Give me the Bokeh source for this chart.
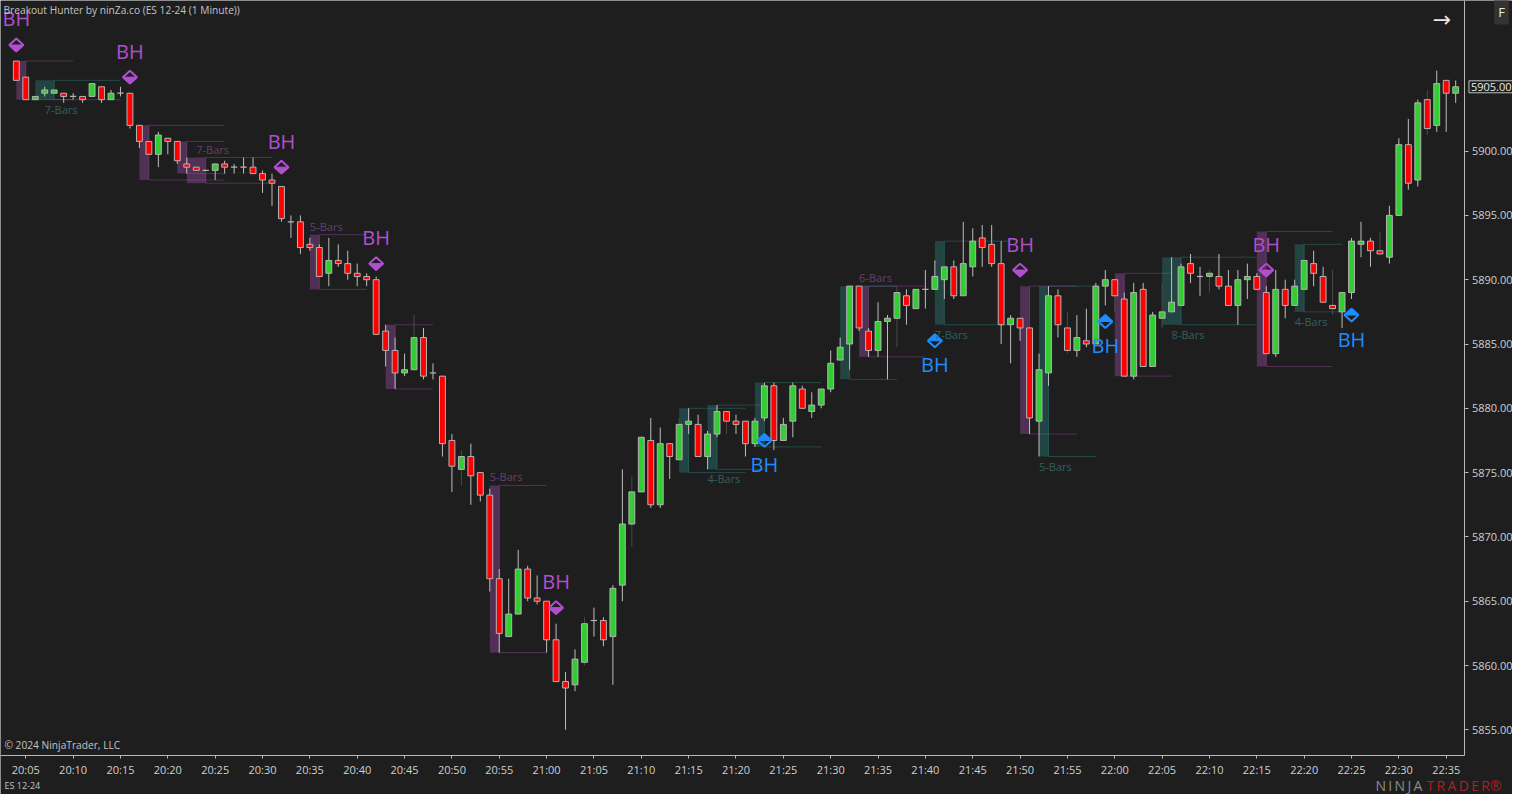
import numpy as np
from bokeh.plotting import figure
from bokeh.models import Range1d, FixedTicker, Label, LabelSet, ColumnDataSource, PrintfTickFormatter
from bokeh.embed import file_html
from bokeh.resources import INLINE
from bokeh.core.properties import value

# ---------------- data ----------------
title_text = "Breakout Hunter by ninZa.co (ES 12-24 (1 Minute))"
instrument = "ES 12-24"
copyright_text = "\u00a9 2024 NinjaTrader, LLC"
first_bar_time = "20:04"

opens = [5907, 5905.75, 5904, 5904.5, 5904.5, 5904.5, 5904.25, 5904.25, 5904.25, 5905,
         5904, 5904.5, 5904.5, 5902, 5900.75, 5899.75, 5901, 5900.75, 5899, 5898.75,
         5898.5, 5898.5, 5899, 5898.75, 5898.75, 5898.75, 5898.25, 5897.75, 5897.25, 5894.5,
         5894.5, 5892.75, 5892.5, 5890.5, 5891.5, 5891.25, 5890.5, 5890.25, 5890, 5886,
         5884.5, 5882.75, 5883, 5885.5, 5882.75, 5882.5, 5877.5, 5875.25, 5876.25, 5875,
         5873.25, 5866.75, 5862.25, 5864, 5867.5, 5865.25, 5865, 5862, 5858.75, 5858.5,
         5860.25, 5863.5, 5863.5, 5862.25, 5866.25, 5871, 5873.5, 5877.5, 5872.5, 5877.25,
         5876, 5878.75, 5878.75, 5876.25, 5878, 5879.75, 5879, 5879, 5877.25, 5879.25,
         5881.75, 5877.5, 5879, 5881.5, 5879.75, 5880.25, 5881.5, 5883.75, 5885, 5889.5,
         5886, 5884.5, 5886.75, 5887, 5888.75, 5887.75, 5889.25, 5889.25, 5890, 5891,
         5888.75, 5891, 5893.25, 5892.75, 5891.25, 5886.5, 5887, 5886.25, 5879, 5882.75,
         5888.75, 5886.25, 5884.5, 5885.25, 5885, 5889.5, 5890, 5888.5, 5882.5, 5889.25,
         5883.25, 5887, 5887.5, 5888, 5891.25, 5890.25, 5890.25, 5890.25, 5889.5, 5888,
         5890, 5890.25, 5889, 5884.25, 5889.25, 5888, 5889.25, 5891.25, 5890.25, 5888,
         5887.5, 5889, 5892.75, 5893, 5892.25, 5891.75, 5895, 5900.5, 5897.75, 5904,
         5902, 5905.5, 5904.5]
highs = [5907, 5905.75, 5904.25, 5905, 5904.75, 5904.5, 5904.5, 5904.25, 5905.25, 5905,
         5904.75, 5905, 5904.5, 5902, 5900.75, 5901.5, 5901, 5900.75, 5899.5, 5898.75,
         5898.5, 5899, 5899.25, 5899, 5899.5, 5899.5, 5898.5, 5898.25, 5897.25, 5895,
         5895, 5893.25, 5892.75, 5893.25, 5892.75, 5892.25, 5891.25, 5890.5, 5890.25, 5886.5,
         5885.5, 5884.25, 5887.25, 5886.25, 5883.5, 5882.5, 5878, 5876.75, 5877.25, 5875,
         5873.75, 5867.5, 5866.75, 5869, 5867.75, 5867, 5865, 5863.25, 5859.5, 5861.25,
         5863.75, 5864.5, 5863.75, 5866.25, 5875.25, 5874.75, 5877.75, 5879.25, 5878.5, 5877.25,
         5879.25, 5880, 5879.5, 5878.25, 5880.25, 5879.75, 5879.5, 5879, 5879.25, 5882,
         5882, 5879.25, 5882, 5881.75, 5881.25, 5881.5, 5884.5, 5885.5, 5889.5, 5889.5,
         5886.25, 5888.25, 5887.25, 5889.5, 5889.25, 5889.25, 5890.75, 5891.5, 5891, 5891.5,
         5894.5, 5894, 5894.25, 5894.25, 5893, 5887.25, 5887, 5886.25, 5884.25, 5889.5,
         5889.25, 5887.5, 5887.25, 5887.75, 5889.75, 5890.75, 5890, 5889, 5889.75, 5889.75,
         5887.5, 5889.75, 5891.75, 5891.25, 5892, 5891, 5890.75, 5892, 5890.75, 5890.75,
         5891.25, 5890.5, 5889.5, 5890.75, 5890, 5890, 5891.5, 5892.25, 5891, 5890.75,
         5889, 5893.25, 5894.5, 5893.25, 5893.75, 5895.75, 5901, 5902.5, 5904, 5904.75,
         5906.25, 5905.5, 5905.5]
lows = [5905.5, 5904, 5904, 5904.25, 5904.5, 5903.75, 5904, 5903.75, 5904.25, 5903.75,
        5904, 5904.25, 5901.75, 5900.25, 5899.75, 5898.75, 5899.75, 5899, 5898.25, 5898.5,
        5898.5, 5897.75, 5898.25, 5898.25, 5898.25, 5898.25, 5896.75, 5895.75, 5894.5, 5893.25,
        5892, 5892.25, 5890.25, 5889.5, 5891, 5890, 5889.5, 5889.5, 5885.75, 5883.25,
        5881.5, 5882.5, 5883, 5882.25, 5882.25, 5876.25, 5873.5, 5874, 5872.5, 5872.75,
        5865.75, 5861, 5862.25, 5864, 5865, 5864.75, 5861, 5858.75, 5855, 5858,
        5860, 5862.25, 5861.5, 5858.5, 5865, 5869.25, 5873.5, 5872.25, 5872.25, 5874.5,
        5876, 5878, 5876.25, 5875.25, 5877.75, 5878, 5878, 5876.25, 5877, 5879,
        5876.75, 5877.5, 5877.75, 5880, 5879.25, 5880, 5881.25, 5883.75, 5883, 5886,
        5884, 5884, 5882.25, 5884.75, 5886.5, 5887.75, 5887.75, 5889.25, 5888.5, 5888.5,
        5888.75, 5890.25, 5891, 5891, 5885, 5883.5, 5885.25, 5878, 5876.25, 5881.75,
        5885.5, 5884.25, 5884, 5884.75, 5885, 5888, 5887.5, 5882.5, 5882.25, 5883.25,
        5883.25, 5886.25, 5887.5, 5888, 5889.75, 5888.75, 5889, 5889.25, 5888, 5886.5,
        5888.5, 5889.25, 5884.25, 5884, 5887, 5888, 5889.25, 5889.5, 5888.25, 5887.25,
        5886.25, 5888.5, 5891.75, 5891, 5892, 5891.25, 5895, 5897, 5897.25, 5901.25,
        5901.5, 5901.5, 5903.75]
closes = [5905.5, 5904, 5904.25, 5904.75, 5904.75, 5904.25, 5904.25, 5904, 5905.25, 5904,
          5904.5, 5904.5, 5902, 5900.75, 5899.75, 5901.25, 5900.75, 5899.25, 5898.75, 5898.5,
          5898.5, 5899, 5898.75, 5898.75, 5898.75, 5898.25, 5897.75, 5897.5, 5894.75, 5894.5,
          5892.5, 5892.5, 5890.25, 5891.5, 5891.25, 5890.5, 5890.25, 5890, 5885.75, 5884.5,
          5882.75, 5883, 5885.5, 5882.5, 5882.75, 5877.25, 5875.5, 5876.25, 5874.75, 5873.25,
          5866.75, 5862.5, 5864, 5867.5, 5865.25, 5865, 5862, 5858.75, 5858.25, 5860.5,
          5863.25, 5863.5, 5862, 5866, 5871, 5873.5, 5877.75, 5872.5, 5877.25, 5876.25,
          5878.75, 5879, 5876.25, 5878, 5879.75, 5879, 5878.75, 5877.25, 5879, 5881.75,
          5877.5, 5878.75, 5881.75, 5880, 5880.25, 5881.5, 5883.5, 5884.75, 5889.5, 5886.25,
          5884.5, 5886.75, 5887, 5889, 5888, 5889.25, 5889.25, 5890.25, 5891, 5888.75,
          5891.25, 5893, 5892.5, 5891.25, 5886.5, 5887, 5886.25, 5879.25, 5883, 5888.75,
          5886.5, 5884.5, 5885.5, 5885, 5889.5, 5890, 5888.75, 5882.5, 5889, 5883.25,
          5887.25, 5887.5, 5888.25, 5891, 5890.5, 5890.25, 5890.5, 5889.5, 5888, 5890,
          5890.25, 5889.25, 5884.25, 5889.25, 5888, 5889.5, 5891.5, 5890.5, 5888.25, 5887.75,
          5889, 5893, 5893, 5892.25, 5892, 5895, 5900.5, 5897.5, 5903.75, 5901.75,
          5905.25, 5904.5, 5905]

dim_wick_bars = [42, 47, 60, 65, 70, 75, 93, 111, 116, 121, 126, 139, 144, 149]

tick_labels = ["20:05", "20:10", "20:15", "20:20", "20:25", "20:30", "20:35", "20:40",
               "20:45", "20:50", "20:55", "21:00", "21:05", "21:10", "21:15", "21:20",
               "21:25", "21:30", "21:35", "21:40", "21:45", "21:50", "21:55", "22:00",
               "22:05", "22:10", "22:15", "22:20", "22:25", "22:30", "22:35"]
price_ticks = [5855, 5860, 5865, 5870, 5875, 5880, 5885, 5890, 5895, 5900]

# breakout boxes (bearish = purple, bullish = teal)
bear_box_start = [0, 13, 17, 18, 31, 39, 50, 89, 106, 116, 131]
bear_box_width = [1, 1, 1, 2, 1, 1, 1, 1, 1, 1, 1]
bear_box_end = [6, 22, 22, 27, 37, 44, 56, 96, 112, 122, 139]
bear_box_top = [5907, 5902, 5900.75, 5899.5, 5893.5, 5886.5, 5874, 5889.5, 5889.5, 5890.5, 5893.75]
bear_box_bottom = [5904, 5897.75, 5898.25, 5897.5, 5889.25, 5881.5, 5861, 5884, 5878, 5882.5, 5883.25]
bear_box_label = ["", "", "", "7-Bars", "5-Bars", "", "5-Bars", "6-Bars", "", "", ""]

bull_box_start = [2, 70, 73, 78, 87, 97, 108, 121, 135]
bull_box_width = [2, 1, 1, 1, 1, 1, 1, 2, 1]
bull_box_end = [11, 77, 79, 85, 93, 105, 114, 131, 140]
bull_box_top = [5905.5, 5880, 5880.25, 5882, 5889.5, 5893, 5889.5, 5891.75, 5892.75]
bull_box_bottom = [5904, 5875, 5875.25, 5877, 5882.25, 5886.5, 5876.25, 5886.5, 5887.5]
bull_box_label = ["7-Bars", "", "4-Bars", "", "", "7-Bars", "5-Bars", "8-Bars", "4-Bars"]

# BH signals
bear_sig_bar = [0, 12, 28, 38, 57, 106, 132]
bear_sig_price = [5908.25, 5905.75, 5898.75, 5891.25, 5864.5, 5890.75, 5890.75]
bull_sig_bar = [79, 97, 115, 141]
bull_sig_price = [5877.5, 5885.25, 5886.75, 5887.25]

# ---------------- styles ----------------
BG = "#1e1e1e"
UP = "#32cd32"
DOWN = "#ff0000"
OUTLINE = "#b4b4b4"
WICK = "#bdbdbd"
WICK_DIM = "#4a4a4a"
PURPLE = "#b24fd0"
BLUE = "#1e8cff"
BOX_PURPLE = "#aa50b4"
BOX_TEAL = "#30a09a"
TXT = "#cfcfcf"
AXIS = "#b8b8b8"
FONT = "Open Sans"

# view: whole canvas is the frame, axes are drawn at fixed locations
X0, X1 = -1.67, 158.0
Y0, Y1 = 5849.97, 5911.71
AX_X = 152.98      # bar position of the price axis line
AX_Y = 5853.02     # price position of the time axis line

n = len(opens)
h0, m0 = map(int, first_bar_time.split(":"))
bar_times = ["%d:%02d" % ((h0 * 60 + m0 + i) // 60, (h0 * 60 + m0 + i) % 60) for i in range(n)]
tick_pos = [bar_times.index(t) for t in tick_labels]

p = figure(width=1512, height=794, x_range=Range1d(X0, X1), y_range=Range1d(Y0, Y1),
           y_axis_location="right", output_backend="svg", toolbar_location=None,
           background_fill_color=BG, border_fill_color=BG, outline_line_color=None,
           min_border_left=0, min_border_top=0, min_border_right=0, min_border_bottom=0)
p.grid.visible = False

for ax in (p.xaxis[0], p.yaxis[0]):
    ax.axis_line_color = AXIS
    ax.major_tick_line_color = AXIS
    ax.minor_tick_line_color = None
    ax.major_tick_in = 0
    ax.major_label_text_color = TXT
    ax.major_label_text_font = FONT
    ax.major_label_text_font_size = "11px"
p.xaxis.fixed_location = AX_Y
p.xaxis.bounds = (X0, AX_X)
p.xaxis.ticker = FixedTicker(ticks=tick_pos)
p.xaxis.major_label_overrides = {tp: lab for tp, lab in zip(tick_pos, tick_labels)}
p.xaxis.major_tick_out = 3
p.xaxis.major_label_standoff = 4
p.yaxis.fixed_location = AX_X
p.yaxis.bounds = (AX_Y, Y1)
p.yaxis.ticker = FixedTicker(ticks=price_ticks)
p.yaxis.formatter = PrintfTickFormatter(format="%.2f")
p.yaxis.major_tick_out = 4
p.yaxis.major_label_standoff = 3


def draw_boxes(start, width, end, top, bottom, labels, color, fill_alpha, line_alpha, text_color, above):
    left = np.array(start, float)
    right = left + np.array(width, float)
    p.quad(left=left, right=right, top=top, bottom=bottom, fill_color=color,
           fill_alpha=fill_alpha, line_color=None)
    xs = [[e, r, r, e] for e, r in zip(end, right)]
    ys = [[t, t, b, b] for t, b in zip(top, bottom)]
    p.multi_line(xs, ys, line_color=color, line_alpha=line_alpha, line_width=1)
    idx = [i for i, s in enumerate(labels) if s]
    src = ColumnDataSource(dict(
        x=[right[i] - 1 for i in idx],
        y=[top[i] if above else bottom[i] for i in idx],
        t=[labels[i] for i in idx]))
    p.add_layout(LabelSet(x="x", y="y", text="t", source=src,
                          y_offset=1 if above else -2,
                          text_baseline="bottom" if above else "top",
                          text_align="left", text_color=text_color,
                          text_font=value(FONT), text_font_size="11px"))


draw_boxes(bear_box_start, bear_box_width, bear_box_end, bear_box_top, bear_box_bottom,
           bear_box_label, BOX_PURPLE, 0.36, 0.38, "#63406f", True)
draw_boxes(bull_box_start, bull_box_width, bull_box_end, bull_box_top, bull_box_bottom,
           bull_box_label, BOX_TEAL, 0.30, 0.33, "#32605e", False)

# candles
x = np.arange(n)
o = np.array(opens, float)
h = np.array(highs, float)
l = np.array(lows, float)
c = np.array(closes, float)
wick_col = [WICK_DIM if i in dim_wick_bars else WICK for i in range(n)]
p.segment(x0=x, y0=l, x1=x, y1=h, line_color=wick_col, line_width=1)

body = o != c
bsrc = ColumnDataSource(dict(x=x[body], top=np.maximum(o, c)[body], bottom=np.minimum(o, c)[body],
                             fill=[UP if cc > oo else DOWN for oo, cc in zip(o[body], c[body])]))
p.vbar(x="x", width=0.62, top="top", bottom="bottom", fill_color="fill",
       line_color=OUTLINE, line_width=1, source=bsrc)
doji = ~body
p.segment(x0=x[doji] - 0.33, y0=o[doji], x1=x[doji] + 0.33, y1=o[doji], line_color=OUTLINE, line_width=1.2)

# BH signals (half filled diamonds)
HW, HH = 0.74, 0.5


def draw_signals(bars, prices, color, bearish):
    outline_xs, outline_ys, half_xs, half_ys = [], [], [], []
    for b, pr in zip(bars, prices):
        outline_xs.append([b - HW, b, b + HW, b])
        outline_ys.append([pr, pr + HH, pr, pr - HH])
        half_xs.append([b - HW, b + HW, b])
        half_ys.append([pr, pr, pr - HH if bearish else pr + HH])
    p.patches(half_xs, half_ys, fill_color=color, line_color=color, line_width=1)
    p.patches(outline_xs, outline_ys, fill_color=None, line_color=color, line_width=2)
    src = ColumnDataSource(dict(x=list(bars), y=list(prices), t=["BH"] * len(bars)))
    p.add_layout(LabelSet(x="x", y="y", text="t", source=src,
                          y_offset=26 if bearish else -24,
                          text_align="center", text_baseline="middle", text_color=color,
                          text_font=value(FONT), text_font_size="20px"))


draw_signals(bear_sig_bar, bear_sig_price, PURPLE, True)
draw_signals(bull_sig_bar, bull_sig_price, BLUE, False)

# texts
p.add_layout(Label(x=X0, y=Y1, x_offset=3, y_offset=-2, text=title_text, text_baseline="top",
                   text_align="left", text_color="#c4c4c4", text_font=FONT, text_font_size="10.2px"))
p.add_layout(Label(x=X0, y=AX_Y, x_offset=4, y_offset=10, text=copyright_text,
                   text_baseline="middle", text_align="left", text_color="#c4c4c4",
                   text_font=FONT, text_font_size="10.2px"))
p.add_layout(Label(x=X0, y=AX_Y, x_offset=4, y_offset=-30, text=instrument,
                   text_baseline="middle", text_align="left", text_color="#c4c4c4",
                   text_font=FONT, text_font_size="9px"))
p.add_layout(Label(x=AX_X, y=Y1, x_offset=-23, y_offset=-19, text="\u2192",
                   text_baseline="middle", text_align="center", text_color="#e8e8e8",
                   text_font="DejaVu Sans", text_font_size="22px"))
p.add_layout(Label(x=X1, y=Y1, x_offset=-11, y_offset=-11, text="F",
                   text_baseline="middle", text_align="center", text_color="#e8e8e8",
                   background_fill_color="#333333", padding=4,
                   text_font=FONT, text_font_size="13px"))
p.add_layout(Label(x=AX_X, y=closes[-1], x_offset=4, text="%.2f" % closes[-1],
                   text_baseline="middle", text_align="left", text_color="#ececec",
                   background_fill_color=BG, border_line_color="#c0c0c0", padding=2,
                   text_font=FONT, text_font_size="11px"))
p.add_layout(Label(x=X1, y=AX_Y, x_offset=-137, y_offset=-30, text="\u2009".join("NINJA"),
                   text_baseline="middle", text_align="left", text_color="#8c8c8c",
                   text_font=FONT, text_font_size="14px"))
p.add_layout(Label(x=X1, y=AX_Y, x_offset=-86, y_offset=-30, text="\u2009".join("TRADER") + "\u00ae",
                   text_baseline="middle", text_align="left", text_color="#a82424",
                   text_font=FONT, text_font_size="14px"))

open("out.html", "w").write(file_html(p, INLINE))
